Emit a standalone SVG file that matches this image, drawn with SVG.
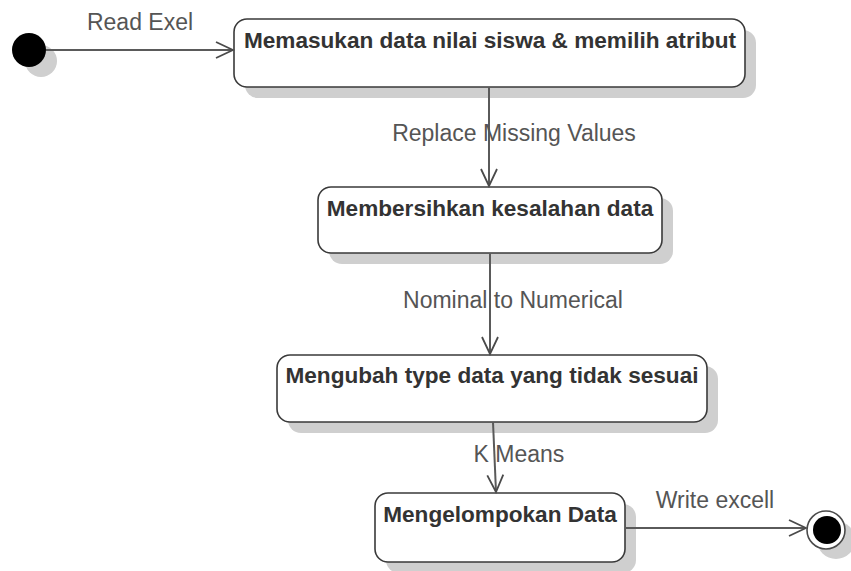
<svg xmlns="http://www.w3.org/2000/svg" width="851" height="571" viewBox="0 0 851 571">
  <style>
    .shadow { fill: #cfcfcf; stroke: none; }
    .box { fill: #ffffff; stroke: #3a3a3a; stroke-width: 1.6; }
    .title { font-family: "Liberation Sans", Arial, sans-serif; font-size: 22.6px; font-weight: bold; fill: #333333; text-anchor: middle; }
    .label { font-family: "Liberation Sans", Arial, sans-serif; font-size: 23px; fill: #555555; text-anchor: middle; }
    .edge { fill: none; stroke: #5a5a5a; stroke-width: 2; }
  </style>
  <defs>
    <marker id="open" markerUnits="userSpaceOnUse" markerWidth="22" markerHeight="22" viewBox="-20 -10 22 20" refX="0" refY="0" orient="auto">
      <polyline points="-17,-8 0,0 -17,8" fill="none" stroke="#4a4a4a" stroke-width="1.8"/>
    </marker>
  </defs>

  <rect width="851" height="571" fill="#ffffff"/>

  <!-- start -->
  <g id="start">
    <circle class="shadow" cx="41" cy="61" r="16"/>
    <circle cx="29" cy="50" r="17" fill="#000000"/>
  </g>

  <!-- activities -->
  <g id="input-data">
    <rect class="shadow" x="245" y="30" width="511" height="68" rx="13"/>
    <rect class="box" x="234" y="19" width="511" height="68" rx="13"/>
    <text class="title" x="490" y="48">Memasukan data nilai siswa &amp; memilih atribut</text>
  </g>

  <g id="clean-data">
    <rect class="shadow" x="329" y="198" width="344" height="66" rx="13"/>
    <rect class="box" x="318" y="187" width="344" height="66" rx="13"/>
    <text class="title" x="490" y="216">Membersihkan kesalahan data</text>
  </g>

  <g id="convert-type">
    <rect class="shadow" x="288" y="366" width="430" height="67" rx="13"/>
    <rect class="box" x="277" y="355" width="430" height="67" rx="13"/>
    <text class="title" x="492" y="383">Mengubah type data yang tidak sesuai</text>
  </g>

  <g id="cluster-data">
    <rect class="shadow" x="386" y="504" width="250" height="69" rx="13"/>
    <rect class="box" x="375" y="493" width="250" height="69" rx="13"/>
    <text class="title" x="500" y="522">Mengelompokan Data</text>
  </g>

  <!-- end -->
  <g id="end">
    <circle class="shadow" cx="836" cy="540" r="19"/>
    <circle cx="826" cy="530" r="19" fill="#ffffff" stroke="#4a4a4a" stroke-width="1.6"/>
    <circle cx="827" cy="530" r="14" fill="#000000"/>
  </g>

  <!-- transitions -->
  <g id="connectors">
    <line class="edge" x1="46" y1="50" x2="233" y2="50" marker-end="url(#open)"/>
    <text class="label" x="140" y="30">Read Exel</text>

    <line class="edge" x1="489" y1="87" x2="489" y2="186" marker-end="url(#open)"/>
    <text class="label" x="514" y="141">Replace Missing Values</text>

    <line class="edge" x1="490" y1="253" x2="490" y2="354" marker-end="url(#open)"/>
    <text class="label" x="513" y="308">Nominal to Numerical</text>

    <line class="edge" x1="493" y1="422" x2="496" y2="492" marker-end="url(#open)"/>
    <text class="label" x="519" y="462">K Means</text>

    <line class="edge" x1="625" y1="528" x2="806" y2="528" marker-end="url(#open)"/>
    <text class="label" x="715" y="508">Write excell</text>
  </g>
</svg>
